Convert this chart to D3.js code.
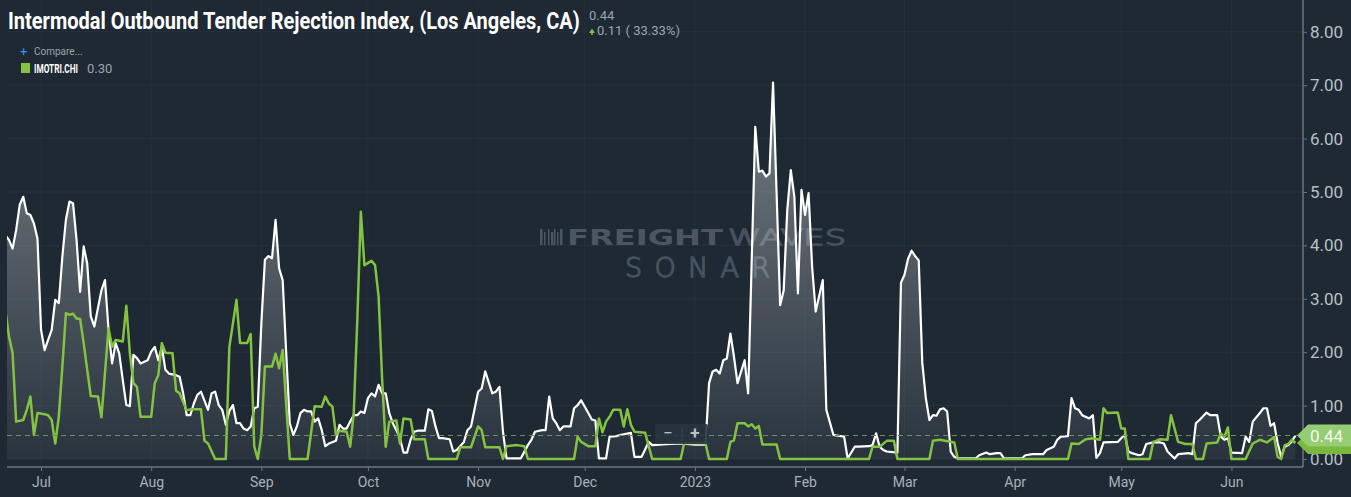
<!DOCTYPE html>
<html>
<head>
<meta charset="utf-8">
<script src="https://cdn.jsdelivr.net/npm/d3@7"></script>
<style>
  html, body { margin: 0; padding: 0; background: #1e2934; }
  svg { display: block; font-family: Roboto, "Noto Sans", sans-serif; }
</style>
</head>
<body>
<svg id="chart" width="1351" height="497"></svg>
<script>
// LA intermodal outbound tender rejections (white) vs IMOTRI.CHI (green)
const whiteDates = [
  '2022-06-21','2022-06-22','2022-06-23','2022-06-24','2022-06-25','2022-06-26','2022-06-27','2022-06-28','2022-06-29','2022-06-30',
  '2022-07-01','2022-07-02','2022-07-03','2022-07-04','2022-07-05','2022-07-06','2022-07-07','2022-07-08','2022-07-09','2022-07-10',
  '2022-07-11','2022-07-12','2022-07-13','2022-07-14','2022-07-15','2022-07-16','2022-07-18','2022-07-19','2022-07-20','2022-07-21',
  '2022-07-22','2022-07-23','2022-07-24','2022-07-25','2022-07-26','2022-07-27','2022-07-28','2022-07-29','2022-07-31',
  '2022-08-01','2022-08-02','2022-08-03','2022-08-04','2022-08-05','2022-08-06','2022-08-08','2022-08-09','2022-08-10','2022-08-11',
  '2022-08-12','2022-08-13','2022-08-14','2022-08-15','2022-08-17','2022-08-18','2022-08-19','2022-08-20','2022-08-21','2022-08-22',
  '2022-08-23','2022-08-24','2022-08-25','2022-08-26','2022-08-27','2022-08-28','2022-08-29','2022-08-30','2022-08-31',
  '2022-09-01','2022-09-02','2022-09-03','2022-09-04','2022-09-05','2022-09-06','2022-09-07','2022-09-08','2022-09-09','2022-09-10',
  '2022-09-11','2022-09-12','2022-09-13','2022-09-14','2022-09-15','2022-09-16','2022-09-17','2022-09-18','2022-09-19','2022-09-20',
  '2022-09-22','2022-09-23','2022-09-24','2022-09-25','2022-09-26','2022-09-27','2022-09-28','2022-09-29','2022-09-30',
  '2022-10-01','2022-10-02','2022-10-03','2022-10-04','2022-10-05','2022-10-06','2022-10-07','2022-10-08','2022-10-09','2022-10-10',
  '2022-10-11','2022-10-12','2022-10-13','2022-10-14','2022-10-15','2022-10-17','2022-10-18','2022-10-19','2022-10-20','2022-10-21',
  '2022-10-22','2022-10-24','2022-10-25','2022-10-26','2022-10-28','2022-10-29','2022-10-30',
  '2022-11-01','2022-11-02','2022-11-03','2022-11-05','2022-11-06','2022-11-07','2022-11-08','2022-11-09','2022-11-13','2022-11-15',
  '2022-11-16','2022-11-17','2022-11-19','2022-11-20','2022-11-21','2022-11-22','2022-11-23','2022-11-24','2022-11-25','2022-11-27',
  '2022-11-28','2022-11-29','2022-11-30',
  '2022-12-02','2022-12-03','2022-12-04','2022-12-05','2022-12-07','2022-12-08','2022-12-10','2022-12-11','2022-12-14','2022-12-15',
  '2022-12-17','2022-12-19','2022-12-20','2022-12-24','2022-12-28',
  '2023-01-01','2023-01-04','2023-01-05','2023-01-06','2023-01-07','2023-01-08','2023-01-09','2023-01-10','2023-01-11','2023-01-12',
  '2023-01-13','2023-01-15','2023-01-16','2023-01-18','2023-01-19','2023-01-20','2023-01-21','2023-01-22','2023-01-23','2023-01-24',
  '2023-01-25','2023-01-26','2023-01-27','2023-01-28','2023-01-29','2023-01-30','2023-01-31',
  '2023-02-01','2023-02-02','2023-02-03','2023-02-04','2023-02-06','2023-02-07','2023-02-09','2023-02-12','2023-02-13','2023-02-15',
  '2023-02-16','2023-02-19','2023-02-20','2023-02-21','2023-02-22','2023-02-23','2023-02-24','2023-02-27','2023-02-28',
  '2023-03-01','2023-03-02','2023-03-03','2023-03-04','2023-03-05','2023-03-06','2023-03-07','2023-03-08','2023-03-09','2023-03-10',
  '2023-03-11','2023-03-12','2023-03-13','2023-03-14','2023-03-15','2023-03-16','2023-03-21','2023-03-22','2023-03-24','2023-03-25',
  '2023-03-27','2023-03-28','2023-03-29',
  '2023-04-03','2023-04-04','2023-04-06','2023-04-09','2023-04-10','2023-04-12','2023-04-13','2023-04-14','2023-04-16','2023-04-17',
  '2023-04-18','2023-04-19','2023-04-20','2023-04-22','2023-04-23','2023-04-24','2023-04-25','2023-04-26','2023-04-30',
  '2023-05-01','2023-05-02','2023-05-03','2023-05-04','2023-05-06','2023-05-07','2023-05-08','2023-05-10','2023-05-12','2023-05-13',
  '2023-05-14','2023-05-16','2023-05-17','2023-05-20','2023-05-21','2023-05-22','2023-05-23','2023-05-25','2023-05-26','2023-05-28',
  '2023-05-29','2023-05-30','2023-05-31',
  '2023-06-01','2023-06-04','2023-06-05','2023-06-06','2023-06-07','2023-06-09','2023-06-10','2023-06-11','2023-06-12','2023-06-13',
  '2023-06-14','2023-06-15','2023-06-16','2023-06-17','2023-06-18','2023-06-19'
];
const whiteVals = [
  4.19,4.10,3.94,4.29,4.76,4.91,4.60,4.57,4.41,4.13,
  2.42,2.04,2.23,2.42,2.98,2.92,3.79,4.48,4.82,4.79,
  4.10,3.13,3.98,3.66,2.67,2.48,3.16,3.35,2.42,1.79,
  2.17,1.98,1.48,1.01,0.99,1.95,1.89,1.79,1.85,
  2.01,2.10,1.85,2.10,1.67,1.60,1.57,1.54,1.23,0.82,
  0.82,1.04,1.20,1.26,0.92,1.23,1.26,1.01,0.92,0.64,
  0.90,1.01,0.67,0.67,0.57,0.54,0.61,0.95,0.98,
  2.54,3.73,3.80,3.76,4.48,3.57,3.35,1.98,0.67,0.45,
  0.61,0.86,0.92,0.89,0.89,0.70,0.76,0.54,0.24,0.29,
  0.34,0.64,0.57,0.57,0.70,0.82,0.82,0.89,0.86,
  1.14,1.23,1.17,1.39,1.23,1.23,0.86,0.67,0.54,0.39,
  0.12,0.12,0.36,0.51,0.53,0.53,0.93,0.90,0.61,0.39,
  0.39,0.37,0.14,0.17,0.32,0.54,0.61,
  1.26,1.32,1.64,1.23,1.26,1.35,0.51,0.01,0.01,0.26,
  0.36,0.51,0.54,0.54,1.17,0.76,0.67,0.54,0.61,0.61,
  0.95,1.01,1.10,
  0.86,0.74,0.72,0.01,0.01,0.42,0.43,0.45,0.49,0.04,
  0.04,0.32,0.26,0.28,0.29,
  0.27,0.27,1.42,1.64,1.67,1.60,1.85,1.88,2.35,1.92,
  1.42,1.85,1.23,6.22,5.38,5.40,5.29,5.35,7.05,4.98,
  2.88,3.16,4.66,5.41,4.91,3.10,5.04,
  4.57,4.98,3.60,2.76,3.35,0.92,0.45,0.42,0.01,0.23,
  0.23,0.24,0.26,0.48,0.23,0.17,0.14,0.12,3.30,
  3.45,3.75,3.90,3.80,3.72,1.80,1.14,0.73,0.82,0.81,
  0.93,0.95,0.89,0.14,0.04,0.01,0.01,0.07,0.12,0.09,
  0.11,0.11,0.01,
  0.01,0.07,0.09,0.09,0.17,0.23,0.36,0.42,0.43,1.14,
  0.95,0.92,0.82,0.76,0.82,0.02,0.11,0.31,0.32,
  0.39,0.45,0.14,0.11,0.07,0.09,0.28,0.31,0.31,0.29,
  0.14,0.01,0.09,0.11,0.09,0.67,0.73,0.87,0.82,0.82,
  0.42,0.36,0.39,
  0.12,0.11,0.42,0.32,0.70,0.86,0.95,0.95,0.62,0.67,
  0.30,0.04,0.23,0.26,0.33,0.44
];

const greenDates = [
  '2022-06-21','2022-06-22','2022-06-23','2022-06-24','2022-06-26','2022-06-27','2022-06-28','2022-06-29','2022-06-30',
  '2022-07-02','2022-07-03','2022-07-04','2022-07-05','2022-07-06','2022-07-07','2022-07-08','2022-07-09','2022-07-10','2022-07-11',
  '2022-07-12','2022-07-13','2022-07-14','2022-07-15','2022-07-17','2022-07-18','2022-07-20','2022-07-21','2022-07-22','2022-07-24',
  '2022-07-25','2022-07-26','2022-07-27','2022-07-28','2022-07-29',
  '2022-08-01','2022-08-02','2022-08-03','2022-08-04','2022-08-05','2022-08-07','2022-08-08','2022-08-09','2022-08-11','2022-08-12',
  '2022-08-15','2022-08-16','2022-08-17','2022-08-19','2022-08-22','2022-08-23','2022-08-25','2022-08-26','2022-08-28','2022-08-29',
  '2022-08-30','2022-08-31',
  '2022-09-01','2022-09-02','2022-09-04','2022-09-05','2022-09-06','2022-09-07','2022-09-09','2022-09-14','2022-09-16','2022-09-18',
  '2022-09-19','2022-09-20','2022-09-21','2022-09-22','2022-09-23','2022-09-25','2022-09-26','2022-09-27','2022-09-28','2022-09-29',
  '2022-09-30',
  '2022-10-02','2022-10-03','2022-10-04','2022-10-05','2022-10-06','2022-10-07','2022-10-09','2022-10-10','2022-10-11','2022-10-13',
  '2022-10-14','2022-10-17','2022-10-18','2022-10-26','2022-10-27','2022-10-30',
  '2022-11-01','2022-11-02','2022-11-03','2022-11-07','2022-11-08','2022-11-09','2022-11-12','2022-11-14','2022-11-15','2022-11-28',
  '2022-11-29','2022-11-30',
  '2022-12-02','2022-12-04','2022-12-05','2022-12-06','2022-12-07','2022-12-08','2022-12-09','2022-12-11','2022-12-12','2022-12-13',
  '2022-12-14','2022-12-15','2022-12-18','2022-12-20','2022-12-28','2022-12-29',
  '2023-01-04','2023-01-05','2023-01-10','2023-01-11','2023-01-12','2023-01-13','2023-01-15','2023-01-16','2023-01-17','2023-01-18',
  '2023-01-19','2023-01-20','2023-01-24','2023-01-25',
  '2023-02-19','2023-02-20','2023-02-22','2023-02-24','2023-02-26','2023-02-27',
  '2023-03-08','2023-03-09','2023-03-11','2023-03-15','2023-03-16',
  '2023-04-16','2023-04-17','2023-04-19','2023-04-21','2023-04-23','2023-04-25','2023-04-26','2023-04-27','2023-04-30',
  '2023-05-01','2023-05-02','2023-05-03','2023-05-09','2023-05-10','2023-05-12','2023-05-14','2023-05-15','2023-05-17','2023-05-19',
  '2023-05-21','2023-05-22','2023-05-24','2023-05-25','2023-05-28','2023-05-29','2023-05-30','2023-05-31',
  '2023-06-01','2023-06-05','2023-06-07','2023-06-09','2023-06-11','2023-06-13','2023-06-14','2023-06-15','2023-06-16','2023-06-17',
  '2023-06-18','2023-06-19'
];
const greenVals = [
  2.76,2.29,1.98,0.70,0.73,0.92,1.17,0.45,0.86,
  0.84,0.82,0.73,0.29,0.79,1.73,2.73,2.70,2.72,2.63,
  2.62,2.17,1.67,1.18,1.17,0.78,2.45,2.10,2.23,2.20,
  2.87,1.98,1.42,1.35,0.79,
  0.79,1.42,1.57,2.17,1.99,1.98,1.28,1.23,0.91,0.93,
  0.93,0.34,0.29,0.00,0.00,2.10,2.98,2.17,2.17,2.34,
  0.23,0.00,
  0.45,1.73,1.73,1.97,1.70,2.04,0.00,0.00,0.99,0.98,
  1.17,1.04,0.98,0.45,0.53,0.51,0.23,0.86,2.60,4.63,
  3.63,
  3.71,3.63,3.04,1.48,0.23,0.70,0.72,0.29,0.76,0.74,
  0.37,0.37,0.00,0.00,0.22,0.22,
  0.61,0.54,0.22,0.22,0.00,0.24,0.26,0.24,0.00,0.00,
  0.42,0.32,
  0.24,0.24,0.76,0.50,0.70,0.79,0.92,0.92,0.61,0.93,
  0.64,0.51,0.49,0.00,0.00,0.30,
  0.29,0.00,0.00,0.32,0.35,0.67,0.67,0.61,0.65,0.57,
  0.62,0.27,0.27,0.00,
  0.00,0.23,0.23,0.34,0.34,0.00,
  0.00,0.34,0.36,0.31,0.00,
  0.00,0.29,0.28,0.37,0.39,0.36,0.95,0.86,0.87,
  0.57,0.57,0.00,0.00,0.32,0.37,0.36,0.82,0.32,0.28,
  0.28,0.00,0.00,0.29,0.31,0.48,0.41,0.59,
  0.00,0.00,0.29,0.36,0.31,0.41,0.04,0.00,0.26,0.28,
  0.36,0.30
];

const yTicks = [0, 1, 2, 3, 4, 5, 6, 7, 8];
const titleText = 'Intermodal Outbound Tender Rejection Index, (Los Angeles, CA)';
const lastValue = 0.44, changeText = '0.11 ( 33.33%)';
const compareSymbol = 'IMOTRI.CHI', compareLast = 0.30;

const parse = d3.timeParse('%Y-%m-%d');
const white = whiteDates.map((d, i) => ({date: parse(d), value: whiteVals[i]}));
const green = greenDates.map((d, i) => ({date: parse(d), value: greenVals[i]}));

const plotLeft = 7, plotRight = 1303, axisY = 467;
const x = d3.scaleTime()
    .domain([parse('2022-06-21'), parse('2023-06-21')])
    .range([5.5, 1302.5]);
const y = d3.scaleLinear().domain([0, 8]).range([459, 31.8]);

const svg = d3.select('#chart');
const fmt2 = d3.format('.2f');

svg.append('rect').attr('width', 1351).attr('height', 497).attr('fill', '#1e2934');

// clip for the series
const defs = svg.append('defs');
defs.append('clipPath').attr('id', 'plotclip')
  .append('rect').attr('x', plotLeft).attr('y', 0)
  .attr('width', plotRight - plotLeft).attr('height', axisY);

const grad = defs.append('linearGradient').attr('id', 'areagrad')
    .attr('gradientUnits', 'userSpaceOnUse')
    .attr('x1', 0).attr('x2', 0).attr('y1', y(7.2)).attr('y2', y(0));
grad.append('stop').attr('offset', 0).attr('stop-color', '#ffffff').attr('stop-opacity', 0.4);
grad.append('stop').attr('offset', 1).attr('stop-color', '#ffffff').attr('stop-opacity', 0.05);

// squeeze a text horizontally to a target width (condensed look)
function squeeze(sel, x0, y0, width) {
  const w = sel.node().getComputedTextLength();
  sel.attr('transform', 'translate(' + x0 + ',' + y0 + ') scale(' + (width / w) + ',1)');
}

// grid
const months = x.ticks(d3.timeMonth.every(1));
const grid = svg.append('g');
grid.selectAll('line.h').data(yTicks).join('line')
    .attr('x1', plotLeft).attr('x2', plotRight)
    .attr('y1', d => y(d)).attr('y2', d => y(d))
    .attr('stroke', '#26323e').attr('stroke-width', 1);
grid.selectAll('line.v').data(months).join('line')
    .attr('x1', d => x(d)).attr('x2', d => x(d))
    .attr('y1', 0).attr('y2', axisY)
    .attr('stroke', '#243039').attr('stroke-width', 1);

// watermark
const wm = svg.append('g');
[0, 4, 8, 11, 14, 17, 20].forEach((dx, i) => {
  wm.append('rect').attr('x', 540 + dx).attr('y', 229 + (i % 2 ? 3 : 0))
    .attr('width', i % 3 === 0 ? 2.5 : 1.5).attr('height', 16 - (i % 2 ? 3 : 0))
    .attr('fill', '#4a5561');
});
wm.append('text').attr('x', 567).attr('y', 245)
    .attr('font-family', '"DejaVu Sans", sans-serif').attr('font-weight', 'bold')
    .attr('font-size', 22).attr('textLength', 156).attr('lengthAdjust', 'spacingAndGlyphs')
    .attr('fill', '#4b5662').text('FREIGHT');
wm.append('text').attr('x', 728).attr('y', 245)
    .attr('font-family', '"DejaVu Sans", sans-serif').attr('font-weight', 200)
    .attr('font-size', 22).attr('textLength', 118).attr('lengthAdjust', 'spacingAndGlyphs')
    .attr('fill', 'none').attr('stroke', '#465260').attr('stroke-width', 1.3).text('WAVES');
wm.append('text').attr('x', 625).attr('y', 277)
    .attr('font-family', '"DejaVu Sans", sans-serif').attr('font-weight', 200)
    .attr('font-size', 27).attr('textLength', 145).attr('lengthAdjust', 'spacing')
    .attr('fill', 'none').attr('stroke', '#465260').attr('stroke-width', 1.4).text('SONAR');

// series
const plot = svg.append('g').attr('clip-path', 'url(#plotclip)');

const area = d3.area()
    .x(d => x(d.date))
    .y0(y(0))
    .y1(d => y(d.value));
const line = d3.line()
    .x(d => x(d.date))
    .y(d => y(d.value));

plot.append('path').datum(white)
    .attr('fill', 'url(#areagrad)')
    .attr('d', area);
plot.append('path').datum(white)
    .attr('fill', 'none')
    .attr('stroke', '#ffffff')
    .attr('stroke-width', 2.2)
    .attr('stroke-linejoin', 'round')
    .attr('d', line);
plot.append('path').datum(green)
    .attr('fill', 'none')
    .attr('stroke', '#84c341')
    .attr('stroke-width', 2.5)
    .attr('stroke-linejoin', 'round')
    .attr('d', line);

// last value dashed line
svg.append('line')
    .attr('x1', plotLeft).attr('x2', plotRight - 6)
    .attr('y1', y(lastValue)).attr('y2', y(lastValue))
    .attr('stroke', '#6f8c62').attr('stroke-width', 1)
    .attr('stroke-dasharray', '5,4');

// x axis
const xAxis = svg.append('g')
    .attr('transform', 'translate(0,' + axisY + ')')
    .call(d3.axisBottom(x)
      .ticks(d3.timeMonth.every(1))
      .tickSize(4)
      .tickFormat(d => d.getMonth() === 0 ? d3.timeFormat('%Y')(d) : d3.timeFormat('%b')(d)));
xAxis.select('.domain').attr('d', 'M' + plotLeft + ',0H' + plotRight).attr('stroke', '#6b7580').attr('stroke-width', 1.5);
xAxis.selectAll('.tick line').attr('stroke', '#6b7580');
xAxis.selectAll('.tick text')
    .attr('fill', '#a9b1b9').attr('font-size', 14).attr('dy', '0.95em')
    .attr('font-family', 'Roboto, sans-serif');

// y axis
const yAxis = svg.append('g')
    .attr('transform', 'translate(' + plotRight + ',0)')
    .call(d3.axisRight(y).tickValues(yTicks).tickSize(4).tickPadding(3).tickFormat(fmt2));
yAxis.select('.domain').attr('d', 'M0,0V' + axisY).attr('stroke', '#6b7580').attr('stroke-width', 1.5);
yAxis.selectAll('.tick line').attr('stroke', '#6b7580');
yAxis.selectAll('.tick text')
    .attr('fill', '#b9c0c7').attr('font-size', 17)
    .attr('font-family', 'Roboto, sans-serif');

// value tags on the right
function tag(v, fill, label) {
  const cy = y(v);
  const g = svg.append('g');
  g.append('path')
    .attr('d', 'M1297,' + cy + 'L1308,' + (cy - 11) + 'H1351V' + (cy + 11) + 'H1308Z')
    .attr('fill', fill);
  if (label) {
    g.append('text').attr('x', 1310).attr('y', cy + 6)
      .attr('font-size', 17).attr('fill', '#f4f8f0').text(label);
  }
}
tag(compareLast, '#79b83c', null);
tag(lastValue, '#96cc73', fmt2(lastValue));

// zoom controls
const zc = svg.append('g');
zc.append('rect').attr('x', 655).attr('y', 424).attr('width', 53).attr('height', 20)
    .attr('rx', 2).attr('fill', '#27333f').attr('opacity', 0.9);
zc.append('line').attr('x1', 682).attr('x2', 682).attr('y1', 427).attr('y2', 441)
    .attr('stroke', '#3a4652');
zc.append('text').attr('x', 668).attr('y', 439).attr('text-anchor', 'middle')
    .attr('font-size', 17).attr('fill', '#b9c0c7').text('\u2212');
zc.append('text').attr('x', 695).attr('y', 439).attr('text-anchor', 'middle')
    .attr('font-size', 17).attr('font-weight', 'bold').attr('fill', '#b9c0c7').text('+');

// title and header
const title = svg.append('text')
    .attr('font-size', 23).attr('font-weight', 'bold').attr('fill', '#ffffff')
    .text(titleText);
squeeze(title, 8, 29, 572);
svg.append('text').attr('x', 589).attr('y', 20)
    .attr('font-size', 13).attr('fill', '#9aa3ab').text(fmt2(lastValue));
svg.append('path').attr('d', 'M589,33 L592,28.5 L595,33 Z').attr('fill', '#7cc142');
svg.append('rect').attr('x', 591.2).attr('y', 32).attr('width', 1.6).attr('height', 3).attr('fill', '#7cc142');
svg.append('text').attr('x', 597).attr('y', 35)
    .attr('font-size', 13).attr('fill', '#9aa3ab').text(changeText);

// compare + legend
svg.append('text').attr('x', 20).attr('y', 56)
    .attr('font-size', 13).attr('fill', '#3f8ff0').text('+');
svg.append('text').attr('x', 34).attr('y', 55)
    .attr('font-size', 10).attr('fill', '#9aa3ab').text('Compare...');
svg.append('rect').attr('x', 21).attr('y', 63).attr('width', 9).attr('height', 10).attr('fill', '#84c341');
const sym = svg.append('text')
    .attr('font-size', 12).attr('font-weight', 'bold').attr('fill', '#ffffff')
    .text(compareSymbol);
squeeze(sym, 34, 73, 44);
svg.append('text').attr('x', 87).attr('y', 73)
    .attr('font-size', 13).attr('fill', '#9aa3ab').text(fmt2(compareLast));
</script>
</body>
</html>
